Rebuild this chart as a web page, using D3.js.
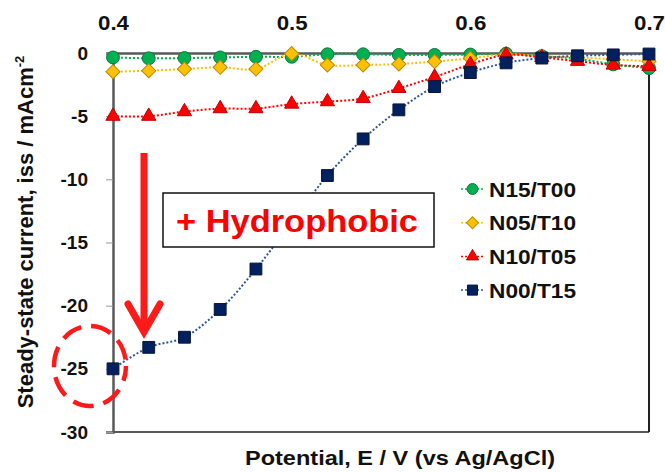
<!DOCTYPE html>
<html>
<head>
<meta charset="utf-8">
<script src="https://cdn.jsdelivr.net/npm/d3@7"></script>
<style>
  body { margin: 0; background: #fff; }
  svg { display: block; font-family: "Liberation Sans", Arial, sans-serif; }
</style>
</head>
<body>
<svg id="chart" width="665" height="472"></svg>
<script>
// values
const potentials = [0.40, 0.42, 0.44, 0.46, 0.48, 0.50, 0.52, 0.54, 0.56, 0.58, 0.60, 0.62, 0.64, 0.66, 0.68, 0.70];
const seriesNames = ["N15/T00", "N05/T10", "N10/T05", "N00/T15"];
const n15t00 = [-0.35, -0.42, -0.4, -0.35, -0.3, -0.3, -0.1, -0.1, -0.15, -0.15, -0.12, -0.05, -0.25, -0.45, -0.9, -1.2];
const n05t10 = [-1.48, -1.4, -1.27, -1.13, -1.27, -0.05, -0.95, -0.95, -0.87, -0.68, -0.42, -0.1, -0.25, -0.35, -0.5, -0.65];
const n10t05 = [-5.0, -5.0, -4.64, -4.4, -4.4, -4.04, -3.85, -3.6, -2.8, -1.9, -0.9, -0.15, -0.35, -0.65, -0.95, -1.05];
const n00t15 = [-25.0, -23.3, -22.5, -20.3, -17.1, -13.4, -9.7, -6.8, -4.5, -2.66, -1.55, -0.78, -0.4, -0.22, -0.15, -0.08];
const xTicks = [0.4, 0.5, 0.6, 0.7];
const yTicks = [0, -5, -10, -15, -20, -25, -30];

const seriesValues = [n15t00, n05t10, n10t05, n00t15];
const lineColors = ["#00b050", "#ffc000", "#ff0000", "#2f5597"];
const fillColors = ["#00b050", "#ffc000", "#ff0000", "#002060"];
const strokeColors = ["#0a7a3a", "#b88a00", "#c00000", "#0a1535"];

const svg = d3.select("#chart");

const x = d3.scaleLinear().domain([0.4, 0.7]).range([113, 649]);
const y = d3.scaleLinear().domain([-30, 0]).range([432, 53]);

// marker shapes
function marker(sel, i, scale) {
    const s = scale || 1;
    if (i === 0) {
        sel.attr("d", d3.symbol().type(d3.symbolCircle).size(130 * s * s)());
    } else if (i === 1) {
        sel.attr("d", d3.symbol().type(d3.symbolSquare).size(100 * s * s)());
    } else if (i === 2) {
        sel.attr("d", d3.symbol().type(d3.symbolTriangle).size(88 * s * s)());
    } else {
        sel.attr("d", d3.symbol().type(d3.symbolSquare).size(140 * s * s)());
    }
    sel.attr("fill", fillColors[i])
        .attr("stroke", strokeColors[i])
        .attr("stroke-width", 1);
}

// plot frame
svg.append("line").attr("x1", 113).attr("x2", 649).attr("y1", 432).attr("y2", 432)
    .attr("stroke", "#595959").attr("stroke-width", 2);
svg.append("line").attr("x1", 649).attr("x2", 649).attr("y1", 53).attr("y2", 432)
    .attr("stroke", "#222").attr("stroke-width", 2);

// left axis
const yAxis = svg.append("g")
    .attr("transform", "translate(113,0)")
    .call(d3.axisLeft(y).tickValues(yTicks).tickSize(7).tickPadding(18).tickFormat(d => String(d)));
yAxis.select(".domain").attr("stroke", "#595959").attr("stroke-width", 2.5);
yAxis.selectAll(".tick line").attr("stroke", "#9a9a9a").attr("stroke-width", 1);
yAxis.selectAll(".tick text").attr("font-size", 19).attr("font-weight", "bold").attr("fill", "#111");

// top axis at zero
const xAxis = svg.append("g")
    .attr("transform", "translate(0,53)")
    .call(d3.axisTop(x).tickValues(xTicks).tickSize(0).tickPadding(23).tickFormat(d3.format(".1f")));
xAxis.select(".domain").attr("stroke", "#595959").attr("stroke-width", 2.5);
xAxis.selectAll(".tick text").attr("font-size", 20).attr("font-weight", "bold").attr("fill", "#111")
    .attr("textLength", 31).attr("lengthAdjust", "spacingAndGlyphs");

// series
const line = d3.line()
    .x((d, i) => x(potentials[i]))
    .y(d => y(d))
    .curve(d3.curveCatmullRom.alpha(0.5));

seriesValues.forEach((vals, i) => {
    const g = svg.append("g");
    g.append("path")
        .datum(vals)
        .attr("d", line)
        .attr("fill", "none")
        .attr("stroke", lineColors[i])
        .attr("stroke-width", 2)
        .attr("stroke-dasharray", "2,2");
    g.selectAll("path.pt")
        .data(vals)
        .enter().append("path")
        .attr("class", "pt")
        .call(marker, i)
        .attr("transform", (d, j) => `translate(${x(potentials[j])},${y(d)})` + (i === 1 ? " rotate(45)" : ""));
});

// legend
const legend = svg.append("g");
seriesNames.forEach((name, i) => {
    const cy = 189 + i * 33.7;
    legend.append("line")
        .attr("x1", 461).attr("x2", 484).attr("y1", cy).attr("y2", cy)
        .attr("stroke", lineColors[i]).attr("stroke-width", 1.5).attr("stroke-dasharray", "2,2");
    legend.append("path")
        .call(marker, i, 0.85)
        .attr("transform", `translate(472.5,${cy})` + (i === 1 ? " rotate(45)" : ""));
    legend.append("text")
        .attr("x", 489).attr("y", cy + 7.5)
        .attr("font-size", 20).attr("font-weight", "bold").attr("fill", "#111")
        .attr("textLength", 87).attr("lengthAdjust", "spacingAndGlyphs")
        .text(name);
});

// dashed circle round the -25 point
svg.append("ellipse")
    .attr("cx", 90).attr("cy", 366).attr("rx", 36).attr("ry", 40)
    .attr("fill", "none").attr("stroke", "#ff1a1a").attr("stroke-width", 4.5)
    .attr("stroke-dasharray", "21,10").attr("stroke-dashoffset", 6);

// red arrow
svg.append("line")
    .attr("x1", 144).attr("x2", 144).attr("y1", 153).attr("y2", 332)
    .attr("stroke", "#ff1a1a").attr("stroke-width", 7);
svg.append("path")
    .attr("d", "M128,304L144,332L160,304")
    .attr("fill", "none").attr("stroke", "#ff1a1a").attr("stroke-width", 7)
    .attr("stroke-linecap", "round").attr("stroke-linejoin", "miter");

// annotation box
svg.append("rect")
    .attr("x", 163).attr("y", 193).attr("width", 271).attr("height", 54)
    .attr("fill", "#fff").attr("stroke", "#111").attr("stroke-width", 1.5);
svg.append("text")
    .attr("x", 176).attr("y", 232)
    .attr("font-size", 32).attr("font-weight", "bold").attr("fill", "#ff0000")
    .attr("textLength", 242).attr("lengthAdjust", "spacingAndGlyphs")
    .text("+ Hydrophobic");

// axis titles
svg.append("text")
    .attr("x", 400).attr("y", 465)
    .attr("text-anchor", "middle")
    .attr("font-size", 20).attr("font-weight", "bold").attr("fill", "#111")
    .attr("textLength", 310).attr("lengthAdjust", "spacingAndGlyphs")
    .text("Potential, E / V (vs Ag/AgCl)");

const yTitle = svg.append("text")
    .attr("transform", "translate(33,232) rotate(-90)")
    .attr("text-anchor", "middle")
    .attr("font-size", 22).attr("font-weight", "bold").attr("fill", "#111");
yTitle.append("tspan").text("Steady-state current, iss / mAcm");
yTitle.append("tspan").attr("font-size", 13).attr("dy", -9).text("-2");
</script>
</body>
</html>
